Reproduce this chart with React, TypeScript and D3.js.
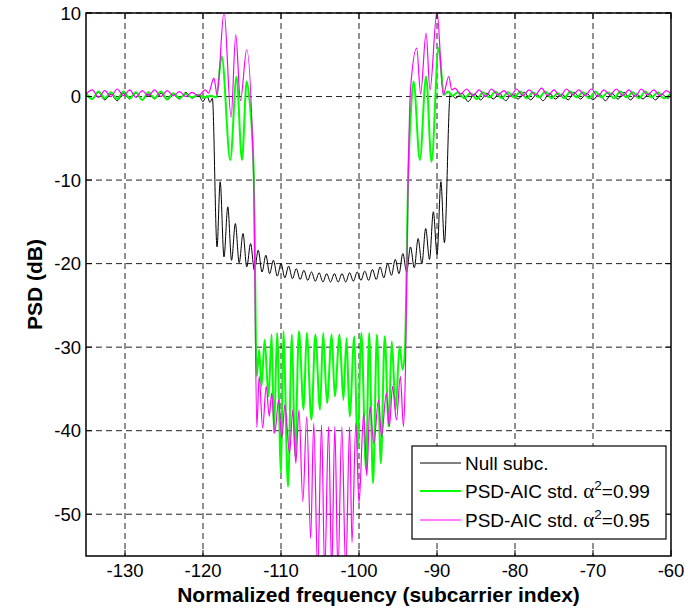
import React from 'react';
import * as d3 from 'd3';

type P = [number, number];

const xTicks = [-130, -120, -110, -100, -90, -80, -70, -60];
const yTicks = [10, 0, -10, -20, -30, -40, -50];
const xDomain: P = [-135, -60];
const yDomain: P = [-55, 10];

const seriesNames = ['Null subc.', 'PSD-AIC std. ', 'PSD-AIC std. '];
const alphaValues = ['', '0.99', '0.95'];

const nullSubc: P[] = [
  [-135.0, 0.2], [-134.2, -0.3], [-133.4, 0.5], [-132.6, -0.4], [-131.8, 0.3], [-131.0, -0.5],
  [-130.2, 0.4], [-129.4, -0.3], [-128.6, 0.4], [-127.8, -0.4], [-127.0, 0.3], [-126.2, -0.3],
  [-125.4, 0.4], [-124.6, -0.4], [-123.8, 0.2], [-123.0, -0.3], [-122.2, 0.5], [-121.4, -0.2],
  [-120.6, 0.2], [-120.0, -0.6], [-119.5, 0.1], [-119.1, -0.7], [-118.8, -0.2],
  [-118.20, -18.0], [-117.80, -10.2], [-117.31, -19.2], [-116.82, -13.2], [-116.34, -19.6],
  [-115.85, -15.2], [-115.36, -19.9], [-114.87, -16.4], [-114.39, -20.4], [-113.90, -17.6],
  [-113.41, -20.8], [-112.92, -18.4], [-112.43, -21.0], [-111.94, -19.0], [-111.46, -21.2],
  [-110.97, -19.6], [-110.48, -21.5], [-109.99, -20.0], [-109.51, -21.7], [-109.02, -20.3],
  [-108.53, -21.8], [-108.04, -20.6], [-107.55, -21.9], [-107.06, -20.8], [-106.58, -22.0],
  [-106.09, -21.0], [-105.60, -22.1], [-105.11, -21.1], [-104.63, -22.2], [-104.14, -21.2],
  [-103.65, -22.2], [-103.16, -21.2], [-102.67, -22.2], [-102.18, -21.2], [-101.70, -22.2],
  [-101.21, -21.1], [-100.72, -22.1], [-100.23, -21.0], [-99.75, -22.0], [-99.26, -20.9],
  [-98.77, -22.0], [-98.28, -20.7], [-97.79, -21.9], [-97.30, -20.4], [-96.82, -21.7],
  [-96.33, -20.0], [-95.84, -21.4], [-95.35, -19.5], [-94.87, -21.2], [-94.38, -18.8],
  [-93.89, -21.0], [-93.40, -18.0], [-92.91, -20.5], [-92.42, -17.0], [-91.94, -20.0],
  [-91.45, -15.8], [-90.96, -19.5], [-90.47, -13.8], [-89.99, -18.9], [-89.50, -10.2],
  [-89.05, -17.5],
  [-88.3, 0.3], [-87.6, -0.2], [-86.8, 0.4], [-86.0, -0.6], [-85.2, 0.3], [-84.4, -0.4],
  [-83.6, 0.4], [-82.8, -0.3], [-82.0, 0.4], [-81.2, -0.5], [-80.4, 0.3], [-79.6, -0.3],
  [-78.8, 0.5], [-78.0, -0.4], [-77.2, 0.3], [-76.4, -0.5], [-75.6, 0.4], [-74.8, -0.3],
  [-74.0, 0.3], [-73.2, -0.4], [-72.4, 0.5], [-71.6, -0.3], [-70.8, 0.4], [-70.0, -0.4],
  [-69.2, 0.3], [-68.4, -0.5], [-67.6, 0.4], [-66.8, -0.3], [-66.0, 0.5], [-65.2, -0.4],
  [-64.4, 0.3], [-63.6, -0.3], [-62.8, 0.4], [-62.0, -0.4], [-61.2, 0.3], [-60.4, -0.2],
  [-60.0, 0.2],
];

const aic099: P[] = [
  [-135.0, 0.4], [-134.2, -0.3], [-133.4, 0.6], [-132.6, -0.2], [-131.8, 0.5], [-131.0, -0.3],
  [-130.2, 0.6], [-129.4, -0.2], [-128.6, 0.5], [-127.8, -0.4], [-127.0, 0.5], [-126.2, -0.2],
  [-125.4, 0.6], [-124.6, -0.3], [-123.8, 0.4], [-123.0, -0.2], [-122.2, 0.3], [-121.4, -0.1],
  [-120.6, 0.2], [-119.8, -0.1], [-119.0, 0.1], [-118.3, -0.1],
  [-117.6, 4.8], [-116.5, -7.6], [-115.7, 2.4], [-115.0, -7.6], [-114.4, 1.8], [-114.0, -0.8],
  [-113.5, -9.0], [-113.1, -33.5],
  [-112.8, -30.3], [-112.5, -34.7], [-112.1, -29.1], [-111.6, -35.9], [-111.2, -28.5],
  [-110.9, -40.3], [-110.5, -28.3], [-110.0, -45.1], [-109.7, -28.1], [-109.1, -46.7],
  [-108.6, -28.5], [-108.2, -43.1], [-107.7, -28.1], [-107.1, -37.5], [-106.7, -28.3],
  [-106.1, -38.7], [-105.6, -28.5], [-105.0, -37.5], [-104.6, -28.3], [-104.1, -36.7],
  [-103.5, -28.5], [-103.1, -35.9], [-102.5, -28.5], [-102.0, -36.3], [-101.6, -28.9],
  [-101.2, -38.3], [-100.6, -28.7], [-100.2, -42.3], [-99.7, -28.3], [-99.1, -44.7],
  [-98.7, -28.3], [-98.2, -46.3], [-97.7, -28.5], [-97.2, -43.9], [-96.7, -28.7],
  [-96.2, -39.5], [-95.8, -29.3], [-95.3, -37.5], [-94.8, -29.9], [-94.4, -32.7],
  [-94.1, -30.0], [-93.7, -10.0], [-93.3, -1.0], [-93.0, 1.8], [-92.2, -7.6], [-91.4, 2.4],
  [-90.7, -7.8], [-89.8, 5.8], [-89.1, 0.2],
  [-88.6, 0.6], [-88.0, 0.1], [-87.3, 0.5], [-86.5, -0.2], [-85.7, 0.4], [-84.9, -0.3],
  [-84.1, 0.5], [-83.3, -0.1], [-82.5, 0.6], [-81.7, -0.2], [-80.9, 0.5], [-80.1, -0.1],
  [-79.3, 0.6], [-78.5, -0.2], [-77.7, 0.5], [-76.9, -0.1], [-76.1, 0.6], [-75.3, -0.2],
  [-74.5, 0.4], [-73.7, -0.2], [-72.9, 0.6], [-72.1, -0.1], [-71.3, 0.5], [-70.5, -0.2],
  [-69.7, 0.6], [-68.9, -0.1], [-68.1, 0.5], [-67.3, -0.2], [-66.5, 0.6], [-65.7, -0.1],
  [-64.9, 0.5], [-64.1, -0.2], [-63.3, 0.6], [-62.5, -0.1], [-61.7, 0.5], [-60.9, -0.2],
  [-60.0, 0.4],
];

const aic095: P[] = [
  [-135.0, 0.3], [-134.2, 0.8], [-133.4, -0.1], [-132.6, 0.7], [-131.8, 0.0], [-131.0, 0.9],
  [-130.2, 0.1], [-129.4, 0.8], [-128.6, -0.1], [-127.8, 0.7], [-127.0, 0.1], [-126.2, 0.8],
  [-125.4, 0.0], [-124.6, 0.7], [-123.8, 0.1], [-123.0, 0.6], [-122.2, 0.0], [-121.4, 0.5],
  [-120.6, 0.1], [-119.7, 0.8], [-119.3, 0.4], [-118.6, 2.2], [-118.2, 0.2],
  [-117.3, 10.2], [-116.4, -2.5], [-115.8, 7.4], [-115.2, -0.5], [-114.4, 5.6],
  [-113.5, -10.0], [-113.1, -39.6],
  [-112.8, -33.5], [-112.35, -39.7], [-111.9, -34.7], [-111.5, -38.3], [-111.2, -35.5],
  [-110.8, -40.3], [-110.3, -36.3], [-109.9, -40.9], [-109.5, -36.9], [-108.9, -42.7],
  [-108.5, -37.5], [-108.1, -43.9], [-107.7, -37.5], [-107.2, -48.5], [-106.7, -38.3],
  [-106.2, -52.9], [-105.8, -39.1], [-105.3, -57.0], [-104.8, -39.3], [-104.4, -57.0],
  [-103.9, -39.5], [-103.5, -57.0], [-103.1, -39.5], [-102.7, -57.0], [-102.2, -39.5],
  [-101.7, -57.0], [-101.2, -39.5], [-100.9, -53.4], [-100.4, -39.1], [-100.0, -48.7],
  [-99.4, -37.9], [-99.0, -45.4], [-98.6, -37.1], [-98.1, -41.5], [-97.5, -36.3],
  [-97.1, -40.7], [-96.5, -35.5], [-96.1, -39.5], [-95.7, -34.7], [-95.2, -38.7],
  [-94.7, -33.5], [-94.3, -39.5], [-94.05, -33.0],
  [-93.7, -10.0], [-93.4, 0.8], [-92.6, 5.8], [-92.1, 0.3], [-91.4, 7.6], [-90.9, 0.8],
  [-90.0, 10.2], [-89.2, 0.2], [-88.5, 2.4], [-88.1, 0.8], [-87.7, 1.0],
  [-87.0, 0.3], [-86.2, 0.9], [-85.4, 0.1], [-84.6, 0.8], [-83.8, 0.0], [-83.0, 0.9],
  [-82.2, 0.2], [-81.4, 0.7], [-80.6, 0.0], [-79.8, 0.9], [-79.0, 0.1], [-78.2, 0.8],
  [-77.4, 0.2], [-76.6, 1.0], [-75.8, 0.1], [-75.0, 0.8], [-74.2, 0.0], [-73.4, 0.9],
  [-72.6, 0.2], [-71.8, 0.8], [-71.0, 0.1], [-70.2, 0.9], [-69.4, 0.0], [-68.6, 0.8],
  [-67.8, 0.2], [-67.0, 0.9], [-66.2, 0.1], [-65.4, 0.8], [-64.6, 0.0], [-63.8, 0.9],
  [-63.0, 0.2], [-62.2, 0.8], [-61.4, 0.1], [-60.6, 0.7], [-60.0, 0.3],
];

const FONT = "'Liberation Sans', Arial, Helvetica, sans-serif";

export default function App() {
  const W = 688, H = 609;
  const L = 86, R = 671, T = 13, B = 556;
  const x = d3.scaleLinear().domain(xDomain).range([L, R]);
  const y = d3.scaleLinear().domain(yDomain).range([B, T]);
  const line = d3.line<P>().x(d => x(d[0])).y(d => y(d[1])).curve(d3.curveMonotoneX);

  const series = [
    { data: nullSubc, color: '#000000', width: 1 },
    { data: aic099, color: '#00ff00', width: 2 },
    { data: aic095, color: '#ff00ff', width: 1.2 },
  ];

  const tickLen = 6;
  const gridColor = '#222';
  const dash = '6,4';

  const lg = { x0: 412, y0: 446, x1: 666, y1: 539 };
  const rows = [463, 491, 520];

  return (
    <svg width={W} height={H} style={{ position: 'absolute', left: 0, top: 0, background: '#fff' }}
      xmlns="http://www.w3.org/2000/svg">
      <defs>
        <clipPath id="plotclip">
          <rect x={L} y={T} width={R - L} height={B - T} />
        </clipPath>
      </defs>
      <rect x={0} y={0} width={W} height={H} fill="#fff" />
      <g stroke={gridColor} strokeWidth={1} strokeDasharray={dash} fill="none">
        {xTicks.filter(v => v !== -60).map(v => (
          <line key={'gx' + v} x1={x(v)} x2={x(v)} y1={T} y2={B} />
        ))}
        {yTicks.map(v => (
          <line key={'gy' + v} x1={L} x2={R} y1={y(v)} y2={y(v)} />
        ))}
      </g>
      <g clipPath="url(#plotclip)" fill="none" strokeLinejoin="round">
        {series.map((s, i) => (
          <path key={i} d={line(s.data) || ''} stroke={s.color} strokeWidth={s.width} />
        ))}
      </g>
      <rect x={L} y={T} width={R - L} height={B - T} fill="none" stroke="#000" strokeWidth={1.5} />
      <g stroke="#000" strokeWidth={1}>
        {xTicks.map(v => (
          <g key={'tx' + v}>
            <line x1={x(v)} x2={x(v)} y1={B} y2={B - tickLen} />
            <line x1={x(v)} x2={x(v)} y1={T} y2={T + tickLen} />
          </g>
        ))}
        {yTicks.map(v => (
          <g key={'ty' + v}>
            <line x1={L} x2={L + tickLen} y1={y(v)} y2={y(v)} />
            <line x1={R} x2={R - tickLen} y1={y(v)} y2={y(v)} />
          </g>
        ))}
      </g>
      <g fontFamily={FONT} fontSize={18.5} fill="#000">
        {xTicks.map(v => (
          <text key={'lx' + v} x={x(v)} y={B + 21} textAnchor="middle">{String(v)}</text>
        ))}
        {yTicks.map(v => (
          <text key={'ly' + v} x={L - 5} y={y(v) + 6.5} textAnchor="end">{String(v)}</text>
        ))}
      </g>
      <text x={(L + R) / 2} y={602} textAnchor="middle" fontFamily={FONT} fontWeight="bold" fontSize={21}>
        Normalized frequency (subcarrier index)
      </text>
      <text transform={`translate(42,${(T + B) / 2}) rotate(-90)`} textAnchor="middle"
        fontFamily={FONT} fontWeight="bold" fontSize={21}>
        PSD (dB)
      </text>
      <rect x={lg.x0} y={lg.y0} width={lg.x1 - lg.x0} height={lg.y1 - lg.y0} fill="#fff" stroke="#000" strokeWidth={1.2} />
      {series.map((s, i) => (
        <g key={'lg' + i}>
          <line x1={420} x2={461} y1={rows[i]} y2={rows[i]} stroke={s.color} strokeWidth={s.width} />
          <text x={465} y={rows[i] + 6.5} fontFamily={FONT} fontSize={19} fill="#000">
            {seriesNames[i]}
            {alphaValues[i] !== '' && (
              <>
                <tspan fontFamily="'Liberation Serif', 'DejaVu Serif', serif" fontSize={21}>α</tspan>
                <tspan dy={-8} fontSize={13.5}>2</tspan>
                <tspan dy={8}>={alphaValues[i]}</tspan>
              </>
            )}
          </text>
        </g>
      ))}
    </svg>
  );
}
